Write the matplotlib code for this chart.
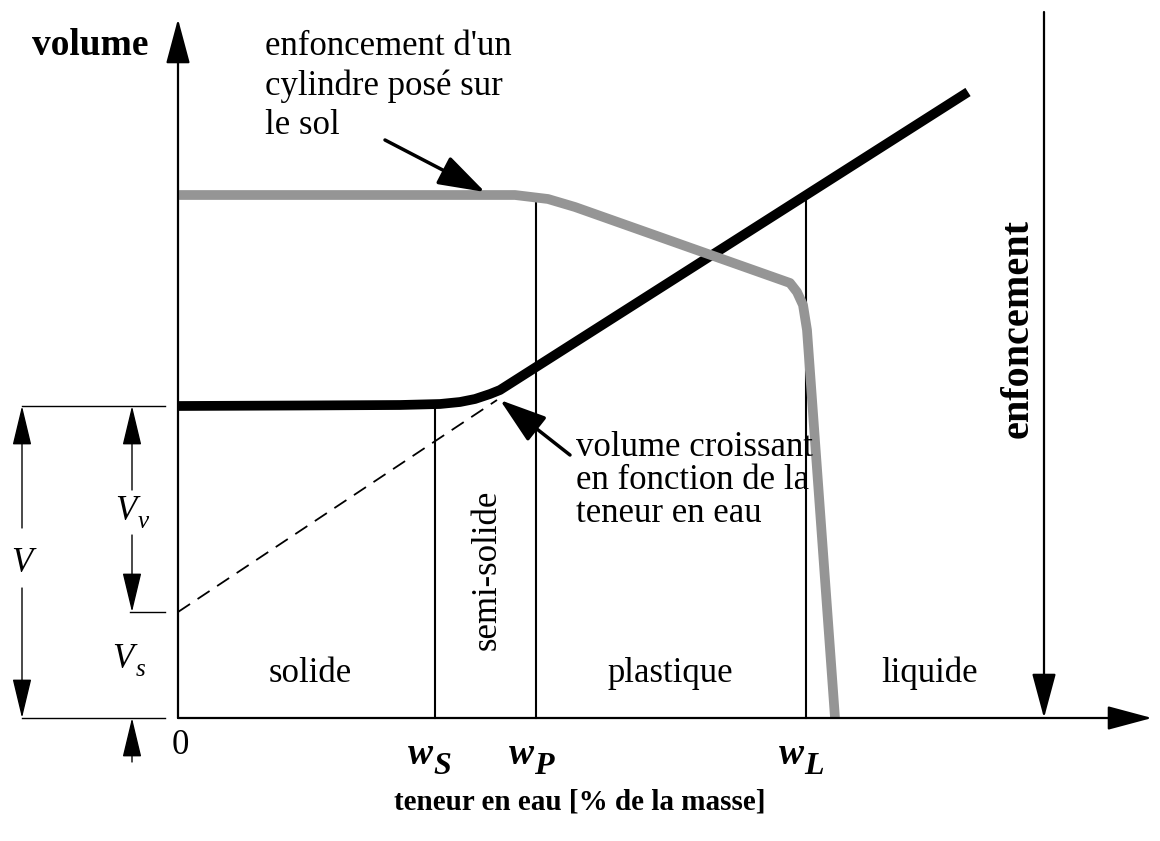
#!/usr/bin/env python3
"""Limites d'Atterberg : volume et enfoncement en fonction de la teneur en eau."""

import matplotlib

matplotlib.use("Agg")
import matplotlib.pyplot as plt

plt.rcParams["font.family"] = ["Liberation Serif", "DejaVu Serif"]

# limites (abscisses, unités du schéma, origine au coin des axes)
W_S, W_P, W_L = 257, 358, 628
V_TOTAL, V_SOLID = 312, 106

# volume croissant (noir)
VOL_X = [0, 122, 222, 262, 282, 297, 312, 322, 790]
VOL_Y = [312, 312.5, 313, 314, 316, 319, 324, 328, 626]

# enfoncement d'un cylindre (gris)
ENF_X = [0, 337, 370, 397, 612, 619, 625, 629, 657]
ENF_Y = [523, 523, 519, 511, 435, 426, 413, 388, 0]

# prolongement en pointillé
DASH_X = [0, 319]
DASH_Y = [V_SOLID, 318]

# hauteurs des traits verticaux aux limites
LIM_X = [W_S, W_P, W_L]
LIM_TOP = [312, 518, 520]

ZONES = ["solide", "plastique", "liquide"]
ZONE_X = [132, 492, 752]

FS = 25
BLACK = "black"
GREY = "#959595"


def arrow(ax, tail, tip, lw=1.6, hl=2.6, hw=0.75, scale=10):
    ax.annotate(
        "",
        xy=tip,
        xytext=tail,
        arrowprops=dict(
            arrowstyle=f"-|>,head_length={hl},head_width={hw}",
            mutation_scale=scale,
            lw=lw,
            color=BLACK,
            fc=BLACK,
            shrinkA=0,
            shrinkB=0,
        ),
        annotation_clip=False,
    )


def main() -> None:
    fig = plt.figure(figsize=(11.6, 8.41), dpi=100)
    ax = fig.add_axes([0, 0, 1, 1])
    ax.set_xlim(-178, 982)
    ax.set_ylim(-123, 718)
    ax.axis("off")

    # axes
    arrow(ax, (0, 0), (0, 699), hl=2.8)
    arrow(ax, (0, 0), (974, 0), hl=2.8)
    arrow(ax, (866, 706), (866, 0), hl=2.8)

    # limites
    for x, top in zip(LIM_X, LIM_TOP):
        ax.plot([x, x], [0, top], color=BLACK, lw=1.5)

    ax.plot(DASH_X, DASH_Y, color=BLACK, lw=1.3, dashes=(8, 5))
    ax.plot(VOL_X, VOL_Y, color=BLACK, lw=7, solid_capstyle="butt",
            solid_joinstyle="round")
    ax.plot(ENF_X, ENF_Y, color=GREY, lw=7, solid_capstyle="butt",
            solid_joinstyle="round")

    # cotes à gauche
    for y, x0 in ((V_TOTAL, -156), (V_SOLID, -48), (0, -156)):
        ax.plot([x0, -13], [y, y], color=BLACK, lw=1.0)
    arrow(ax, (-156, 190), (-156, V_TOTAL), lw=1.0, hl=2.5, hw=0.6)
    arrow(ax, (-156, 130), (-156, 0), lw=1.0, hl=2.5, hw=0.6)
    arrow(ax, (-46, 228), (-46, V_TOTAL), lw=1.0, hl=2.5, hw=0.6)
    arrow(ax, (-46, 183), (-46, V_SOLID), lw=1.0, hl=2.5, hw=0.6)
    arrow(ax, (-46, -44), (-46, 0), lw=1.0, hl=2.5, hw=0.6)

    ax.text(-156, 155, "V", fontsize=FS, style="italic", ha="center", va="center")
    ax.text(-52, 206, "V", fontsize=FS, style="italic", ha="center", va="center")
    ax.text(-40, 196, "v", fontsize=18, style="italic", ha="left", va="center")
    ax.text(-55, 58, "V", fontsize=FS, style="italic", ha="center", va="center")
    ax.text(-42, 48, "s", fontsize=18, style="italic", ha="left", va="center")

    # textes
    ax.text(-88, 673, "volume", fontsize=27, weight="bold", ha="center", va="center")
    ax.text(2, -27, "0", fontsize=FS, ha="center", va="center")
    for x, sub in ((W_S, "S"), (W_P, "P"), (W_L, "L")):
        ax.text(x - 2, -36, "w", fontsize=27, weight="bold", style="italic",
                ha="right", va="center")
        ax.text(x - 2, -49, sub, fontsize=FS - 2, weight="bold", style="italic",
                ha="left", va="center")
    ax.text(402, -84, "teneur en eau [% de la masse]", fontsize=FS - 4,
            weight="bold", ha="center", va="center")

    for x, label in zip(ZONE_X, ZONES):
        ax.text(x, 45, label, fontsize=FS, ha="center", va="center")
    ax.text(309, 148, "semi-solide", fontsize=FS, rotation=90,
            ha="center", va="center")
    ax.text(840, 390, "enfoncement", fontsize=29, weight="bold", rotation=90,
            ha="center", va="center")

    ax.text(87, 688, "enfoncement d'un\ncylindre posé sur\nle sol", fontsize=FS,
            ha="left", va="top", linespacing=1.25)
    arrow(ax, (207, 578), (307, 526), lw=2.5, hl=2.9, hw=0.95)

    ax.text(398, 287, "volume croissant\nen fonction de la\nteneur en eau",
            fontsize=FS, ha="left", va="top", linespacing=1.0)
    arrow(ax, (392, 263), (322, 318), lw=2.5, hl=2.9, hw=0.95)

    fig.savefig("out.png", dpi=100)


if __name__ == "__main__":
    main()
